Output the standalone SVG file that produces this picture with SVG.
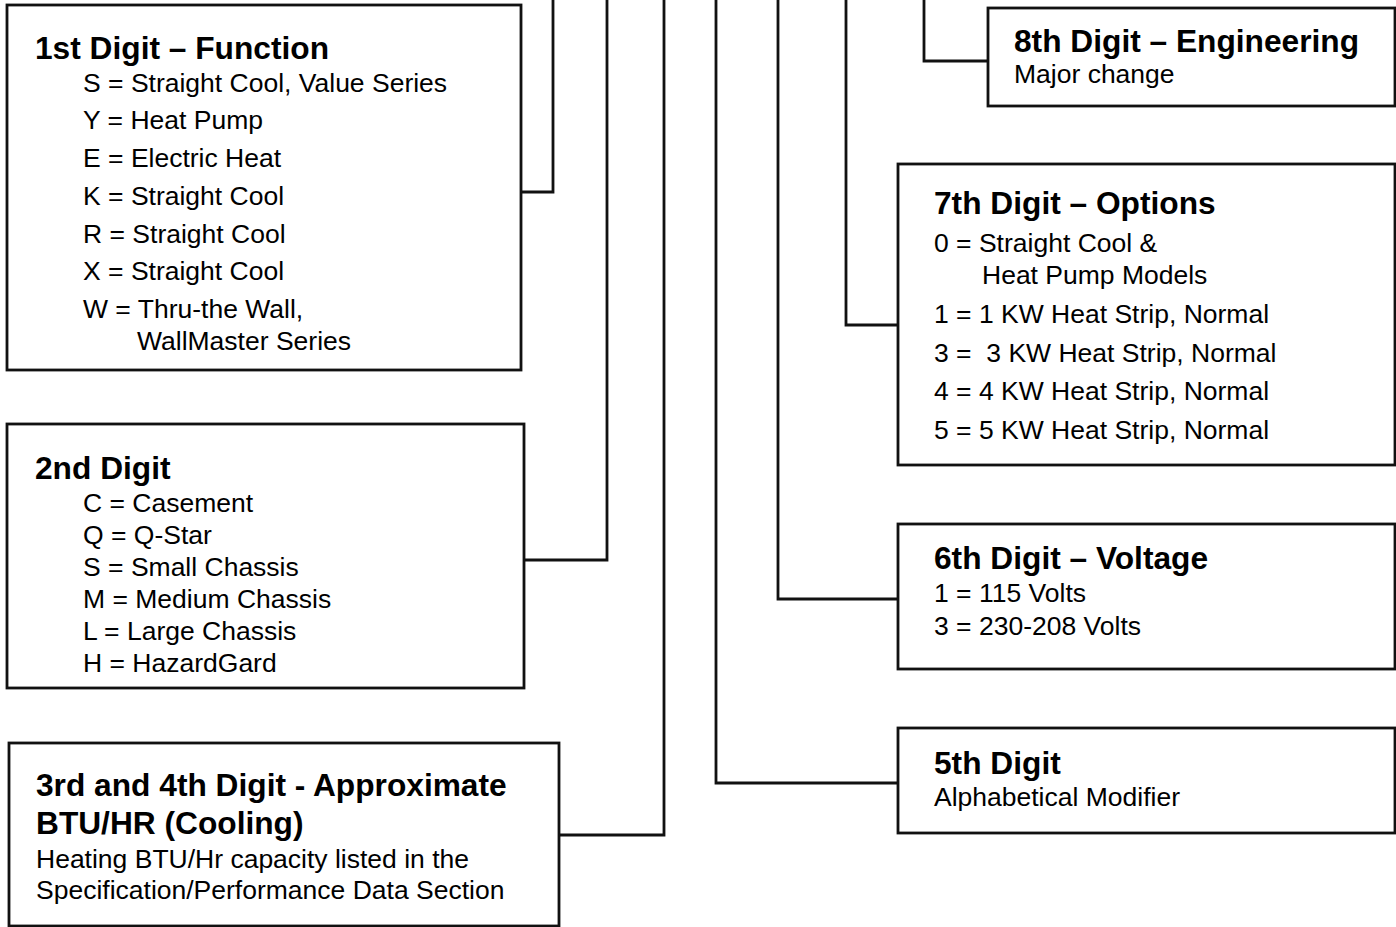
<svg xmlns="http://www.w3.org/2000/svg" width="1396" height="927" viewBox="0 0 1396 927">
<style>
.box{fill:#fff;stroke:#111;stroke-width:2.8}
.con{fill:none;stroke:#111;stroke-width:2.8}
.t{font-family:"Liberation Sans",Arial,sans-serif;font-weight:bold;font-size:31.7px;fill:#000}
.b{font-family:"Liberation Sans",Arial,sans-serif;font-size:26.5px;fill:#000}
</style>
<rect width="1396" height="927" fill="#fff"/>
<g id="connectors">
<polyline class="con" points="521,192 553,192 553,0"/>
<polyline class="con" points="524,560 607,560 607,0"/>
<polyline class="con" points="559,835 664,835 664,0"/>
<polyline class="con" points="898,783 716,783 716,0"/>
<polyline class="con" points="898,599 778,599 778,0"/>
<polyline class="con" points="898,325 846,325 846,0"/>
<polyline class="con" points="988,61 924,61 924,0"/>
</g>
<g id="digit1">
<rect class="box" x="7" y="5" width="514" height="365"/>
<text class="t" x="35" y="59">1st Digit – Function</text>
<text class="b" x="83" y="91.5">S = Straight Cool, Value Series</text>
<text class="b" x="83" y="129">Y = Heat Pump</text>
<text class="b" x="83" y="166.5">E = Electric Heat</text>
<text class="b" x="83" y="204.5">K = Straight Cool</text>
<text class="b" x="83" y="242.5">R = Straight Cool</text>
<text class="b" x="83" y="280">X = Straight Cool</text>
<text class="b" x="83" y="317.5">W = Thru-the Wall,</text>
<text class="b" x="137" y="349.5">WallMaster Series</text>
</g>
<g id="digit2">
<rect class="box" x="7" y="424" width="517" height="264"/>
<text class="t" x="35" y="479">2nd Digit</text>
<text class="b" x="83" y="511.5">C = Casement</text>
<text class="b" x="83" y="543.5">Q = Q-Star</text>
<text class="b" x="83" y="575.5">S = Small Chassis</text>
<text class="b" x="83" y="607.5">M = Medium Chassis</text>
<text class="b" x="83" y="639.5">L = Large Chassis</text>
<text class="b" x="83" y="671.5">H = HazardGard</text>
</g>
<g id="digit34">
<rect class="box" x="9" y="743" width="550" height="183"/>
<text class="t" x="36" y="796">3rd and 4th Digit - Approximate</text>
<text class="t" x="36" y="834">BTU/HR (Cooling)</text>
<text class="b" x="36" y="867.5">Heating BTU/Hr capacity listed in the</text>
<text class="b" x="36" y="898.5">Specification/Performance Data Section</text>
</g>
<g id="digit8">
<rect class="box" x="988" y="8" width="407" height="98"/>
<text class="t" x="1014" y="52">8th Digit – Engineering</text>
<text class="b" x="1014" y="82.5">Major change</text>
</g>
<g id="digit7">
<rect class="box" x="898" y="164" width="497" height="301"/>
<text class="t" x="934" y="214">7th Digit – Options</text>
<text class="b" x="934" y="251.5">0 = Straight Cool &amp;</text>
<text class="b" x="982" y="283.5">Heat Pump Models</text>
<text class="b" x="934" y="322.5">1 = 1 KW Heat Strip, Normal</text>
<text class="b" x="934" y="361.5" xml:space="preserve">3 =  3 KW Heat Strip, Normal</text>
<text class="b" x="934" y="399.5">4 = 4 KW Heat Strip, Normal</text>
<text class="b" x="934" y="438.5">5 = 5 KW Heat Strip, Normal</text>
</g>
<g id="digit6">
<rect class="box" x="898" y="524" width="497" height="145"/>
<text class="t" x="934" y="569">6th Digit – Voltage</text>
<text class="b" x="934" y="602">1 = 115 Volts</text>
<text class="b" x="934" y="635">3 = 230-208 Volts</text>
</g>
<g id="digit5">
<rect class="box" x="898" y="728" width="497" height="105"/>
<text class="t" x="934" y="774">5th Digit</text>
<text class="b" x="934" y="806">Alphabetical Modifier</text>
</g>
</svg>
